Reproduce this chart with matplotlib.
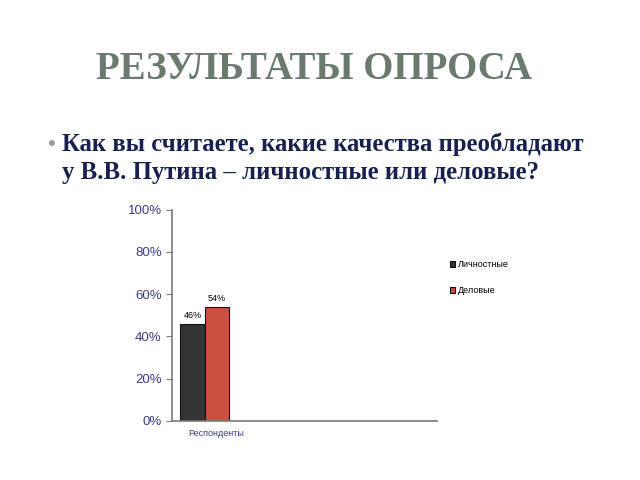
import numpy as np
import matplotlib.pyplot as plt
from matplotlib.ticker import PercentFormatter

# survey data
categories = ['Респонденты']
series_names = ['Личностные', 'Деловые']
values = [46, 54]
colors = ['#333333', '#cc5040']

title = 'РЕЗУЛЬТАТЫ ОПРОСА'
question = 'Как вы считаете, какие качества преобладают\nу В.В. Путина – личностные или деловые?'

fig = plt.figure(figsize=(6.4, 4.8), dpi=100)
fig.patch.set_facecolor('white')

# slide title and bullet
fig.text(0.49, 0.855, title, ha='center', va='center', family='Liberation Serif',
         fontweight='bold', fontsize=28, color='#6b7a6f')
fig.text(0.074, 0.698, '•', ha='left', va='center', family='Liberation Sans',
         fontsize=16, color='#9a9a9a')
fig.text(0.097, 0.670, question, ha='left', va='center', family='Liberation Serif',
         fontweight='bold', fontsize=17.8, color='#17204f', linespacing=1.26)

ax = fig.add_axes([0.269, 0.123, 0.414, 0.44])

width = 0.1
x = np.arange(len(categories))
for i, (name, val, col) in enumerate(zip(series_names, values, colors)):
    pos = x + (i - 0.5) * width
    bars = ax.bar(pos, [val], width, color=col, edgecolor='#111111', linewidth=0.8, label=name)
    for b in bars:
        ax.text(b.get_x() + b.get_width() / 2, b.get_height() + 2, '%d%%' % val,
                ha='center', va='bottom', fontsize=6.5, family='Liberation Sans')

ax.set_ylim(0, 100)
ax.set_xlim(-0.133, 0.949)
ax.set_yticks(np.arange(0, 101, 20))
ax.yaxis.set_major_formatter(PercentFormatter(decimals=0))
ax.set_xticks(x + 0.047)
ax.set_xticklabels(categories)

for side in ['top', 'right']:
    ax.spines[side].set_visible(False)
for side in ['left', 'bottom']:
    ax.spines[side].set_color('#7a7a7a')
    ax.spines[side].set_linewidth(1.2)

ax.tick_params(axis='y', colors='#7a7a7a', labelcolor='#3b3b8c', labelsize=9.5, length=4, direction='out')
ax.tick_params(axis='x', colors='#7a7a7a', labelcolor='#3b3b8c', labelsize=6.5, length=0, pad=6)
for lbl in ax.get_yticklabels() + ax.get_xticklabels():
    lbl.set_family('Liberation Sans')

leg = fig.legend(loc='upper left', bbox_to_anchor=(0.69, 0.475), frameon=False,
                 prop={'family': 'Liberation Sans', 'size': 6.5},
                 handlelength=0.6, handleheight=0.6, handletextpad=0.3, labelspacing=1.9)

fig.savefig('out.png', dpi=100)
